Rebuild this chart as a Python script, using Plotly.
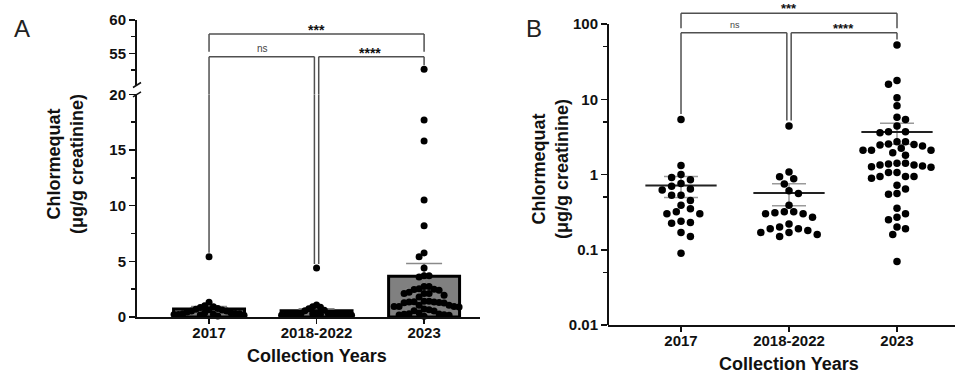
import numpy as np
import plotly.graph_objects as go

# ---------------- data ----------------
categories = ["2017", "2018-2022", "2023"]

chlormequat_2017 = [5.4, 1.32, 1.0, 0.91, 0.85, 0.76, 0.70, 0.64, 0.62, 0.53, 0.53,
                    0.45, 0.39, 0.35, 0.32, 0.30, 0.30, 0.24, 0.23, 0.225, 0.17,
                    0.15, 0.09]
chlormequat_2018_2022 = [4.4, 1.08, 0.93, 0.88, 0.75, 0.61, 0.56, 0.39, 0.32, 0.32,
                         0.31, 0.30, 0.30, 0.27, 0.22, 0.20, 0.19, 0.19, 0.18,
                         0.17, 0.17, 0.16, 0.15]
chlormequat_2023 = [52.6, 17.7, 15.8, 10.5, 8.2, 5.75, 5.4, 4.4, 3.7, 3.7, 3.6,
                    2.73, 2.73, 2.54, 2.5, 2.47, 2.4, 2.23, 2.1, 2.1, 2.1, 1.95,
                    1.8, 1.41, 1.41, 1.38, 1.34, 1.34, 1.3, 1.27, 1.25, 1.06,
                    1.06, 0.94, 0.94, 0.94, 0.89, 0.72, 0.64, 0.56, 0.545,
                    0.356, 0.30, 0.27, 0.25, 0.20, 0.19, 0.16, 0.07]

# comparisons: (group a, group b, label)
comparisons = [(0, 2, "***"), (0, 1, "ns"), (1, 2, "****")]

yA_lower_ticks = [0, 5, 10, 15, 20]
yA_upper_ticks = [55, 60]
yB_ticks = [0.01, 0.1, 1, 10, 100]
yB_ticklabels = ["0.01", "0.1", "1", "10", "100"]

groups = [chlormequat_2017, chlormequat_2018_2022, chlormequat_2023]
means = [float(np.mean(g)) for g in groups]
sems = [float(np.std(g, ddof=1) / np.sqrt(len(g))) for g in groups]

# ---------------- geometry ----------------
W, H = 955, 374
def pxx(p): return p / W
def pxy(p): return 1 - p / H

xA_dom = [pxx(137), pxx(480)]
xA_rng = [-0.67, 2.52]
yA_dom = [pxy(317), pxy(94.3)]
yA_rng = [0, 20]
yA2_dom = [pxy(85), pxy(20)]
yA2_rng = [50.25, 60]

dec_px = 75.25
xB_dom = [pxx(608), pxx(955)]
xB_rng = [-0.676, 2.537]
yB_rng = [-2, 2.2]
yB_dom = [pxy(325), pxy(24 - 0.2 * dec_px)]

def ppu(dom, rng, size):
    return (dom[1] - dom[0]) * size / (rng[1] - rng[0])

xA_ppu = ppu(xA_dom, xA_rng, W)
yA_ppu = ppu(yA_dom, yA_rng, H)
yA2_ppu = ppu(yA2_dom, yA2_rng, H)
xB_ppu = ppu(xB_dom, xB_rng, W)
yB_ppu = ppu(yB_dom, yB_rng, H)


def swarm(ypix, diam, step, max_half):
    """Greedy beeswarm in pixel space, then squeezed to fit max_half px."""
    ypix = np.asarray(ypix, float)
    offs = np.zeros(len(ypix))
    placed = []
    for i in np.argsort(ypix):
        bal = sum(o for o, _ in placed)
        k = 0
        done = False
        while not done:
            cs = [0.0] if k == 0 else ([-k * step, k * step] if bal >= 0 else [k * step, -k * step])
            for c in cs:
                if all((c - ox) ** 2 + (ypix[i] - oy) ** 2 >= diam ** 2 for ox, oy in placed):
                    offs[i] = c
                    placed.append((c, ypix[i]))
                    done = True
                    break
            k += 1
    m = np.max(np.abs(offs)) if len(offs) else 0
    if m > max_half:
        offs = offs * max_half / m
    return offs


fig = go.Figure()
BLACK = "#111111"
FONT = "Liberation Sans"

def b(t):
    return "<b>" + t + "</b>"

# ---------------- Panel A ----------------
fig.add_trace(go.Bar(
    x=[0, 1, 2], y=means, width=0.66, xaxis="x", yaxis="y",
    marker=dict(color="#808080", line=dict(color="#000000", width=3)),
    error_y=dict(type="data", array=sems, color="#8a8a8a", thickness=1.5, width=18),
    showlegend=False, hoverinfo="skip"))

for gi, g in enumerate(groups):
    g = np.asarray(g)
    low = g[g <= 20]
    high = g[g > 20]
    offs = swarm(-low * yA_ppu, 7.0, 3.8, 35) / xA_ppu
    fig.add_trace(go.Scatter(
        x=gi + offs, y=low, mode="markers", xaxis="x", yaxis="y",
        marker=dict(color="#000000", size=7), cliponaxis=False,
        showlegend=False, hoverinfo="skip"))
    if len(high):
        offs_h = swarm(-high * yA2_ppu, 7.0, 3.8, 35) / xA_ppu
        fig.add_trace(go.Scatter(
            x=gi + offs_h, y=high, mode="markers", xaxis="x", yaxis="y2",
            marker=dict(color="#000000", size=7), cliponaxis=False,
            showlegend=False, hoverinfo="skip"))

# ---------------- Panel B ----------------
mx, my = [], []
for gi, m in enumerate(means):
    mx += [gi - 0.33, gi + 0.33, None]
    my += [m, m, None]
fig.add_trace(go.Scatter(
    x=[0, 1, 2], y=means, mode="markers", xaxis="x2", yaxis="y3",
    marker=dict(size=1, opacity=0),
    error_y=dict(type="data", array=sems, color="#9a9a9a", thickness=1.5, width=17),
    showlegend=False, hoverinfo="skip"))
fig.add_trace(go.Scatter(
    x=mx, y=my, mode="lines", xaxis="x2", yaxis="y3",
    line=dict(color="#222222", width=2), showlegend=False, hoverinfo="skip"))
for gi, g in enumerate(groups):
    g = np.asarray(g)
    offs = swarm(-np.log10(g) * yB_ppu, 7.8, 4.7, 34) / xB_ppu
    fig.add_trace(go.Scatter(
        x=gi + offs, y=g, mode="markers", xaxis="x2", yaxis="y3",
        marker=dict(color="#000000", size=7.5), cliponaxis=False,
        showlegend=False, hoverinfo="skip"))

# ---------------- brackets ----------------
shapes = []
annotations = []
BR = dict(color="#505050", width=1.5)
maxes = [max(g) for g in groups]

def seg(xref, yref, x0, y0, x1, y1):
    shapes.append(dict(type="line", xref=xref, yref=yref, x0=x0, y0=y0,
                       x1=x1, y1=y1, line=BR, layer="above"))

def ann(**kw):
    d = dict(showarrow=False, xanchor="center", yanchor="middle")
    d.update(kw)
    annotations.append(d)

STAR_A = dict(family=FONT, size=14, color=BLACK)
STAR_B = dict(family=FONT, size=13, color=BLACK)

# Panel A bracket heights (upper axis units)
A_top, A_top_leg = 57.9, 55.25
A_mid = 54.5
gapA_low = 4 / yA_ppu
gapA_up = 4 / yA2_ppu

def legA(x, y_from, target):
    if target > 20:
        seg("x", "y2", x, y_from, x, target + gapA_up)
    else:
        seg("x", "y2", x, y_from, x, yA2_rng[0])
        seg("x", "paper", x, yA2_dom[0], x, yA_dom[1])
        seg("x", "y", x, yA_rng[1], x, target + gapA_low)

for a, c, lab in comparisons:
    if lab == "***":
        seg("x", "y2", a, A_top, c, A_top)
        seg("x", "y2", a, A_top, a, A_top_leg)
        seg("x", "y2", c, A_top, c, A_top_leg)
        ann(x=(a + c) / 2, y=A_top, xref="x", yref="y2", text=b("***"),
            yanchor="bottom", yshift=-6, font=STAR_A)
    else:
        xa = a + (0.02 if a == 1 else 0)
        xb = c - (0.02 if c == 1 else 0)
        seg("x", "y2", xa, A_mid, xb, A_mid)
        legA(xa, A_mid, maxes[a])
        legA(xb, A_mid, maxes[c])
        if lab == "ns":
            ann(x=(a + c) / 2, y=A_mid, xref="x", yref="y2", text="ns",
                yanchor="bottom", yshift=1, font=dict(family=FONT, size=10, color="#444"))
        else:
            ann(x=(a + c) / 2, y=A_mid, xref="x", yref="y2", text=b(lab),
                yanchor="bottom", yshift=-6, font=STAR_A)

# Panel B brackets (data units on log axis)
B_top, B_top_leg = 138.7, 87.7
B_mid = 76.6
gapB = 10 ** (5.5 / yB_ppu)
for a, c, lab in comparisons:
    if lab == "***":
        seg("x2", "y3", a, B_top, c, B_top)
        seg("x2", "y3", a, B_top, a, B_top_leg)
        seg("x2", "y3", c, B_top, c, B_top_leg)
        ann(x=(a + c) / 2, y=np.log10(B_top), xref="x2", yref="y3", text=b("***"),
            yanchor="bottom", yshift=-5, font=STAR_B)
    else:
        xa = a + (0.02 if a == 1 else 0)
        xb = c - (0.02 if c == 1 else 0)
        seg("x2", "y3", xa, B_mid, xb, B_mid)
        seg("x2", "y3", xa, B_mid, xa, maxes[a] * gapB)
        seg("x2", "y3", xb, B_mid, xb, maxes[c] * gapB)
        if lab == "ns":
            ann(x=(a + c) / 2, y=np.log10(B_mid), xref="x2", yref="y3", text="ns",
                yanchor="bottom", yshift=1, font=dict(family=FONT, size=9, color="#444"))
        else:
            ann(x=(a + c) / 2, y=np.log10(B_mid), xref="x2", yref="y3", text=b(lab),
                yanchor="bottom", yshift=-5, font=STAR_B)

# Panel B y-axis line (only 0.01 .. 100)
shapes.append(dict(type="line", xref="x2 domain", yref="y3", x0=0, x1=0,
                   y0=0.01, y1=100, line=dict(color=BLACK, width=2), layer="above"))

# axis break marks (panel A)
for ybrk in (85, 94.3):
    shapes.append(dict(type="line", xref="paper", yref="paper",
                       x0=pxx(133), x1=pxx(141), y0=pxy(ybrk + 2.5), y1=pxy(ybrk - 2.5),
                       line=dict(color=BLACK, width=1.5)))

# titles and panel letters
TF = dict(family=FONT, size=18, color=BLACK)
ytitle = "<b>Chlormequat</b><br><b>(μg/g creatinine)</b>"
ann(x=pxx(65), y=pxy(164), xref="paper", yref="paper", text=ytitle, textangle=-90, font=TF)
ann(x=pxx(550), y=pxy(169), xref="paper", yref="paper", text=ytitle, textangle=-90, font=TF)
ann(x=1, y=pxy(356), xref="x", yref="paper", text=b("Collection Years"), font=TF)
ann(x=1, y=pxy(364), xref="x2", yref="paper", text=b("Collection Years"), font=TF)
ann(x=pxx(21.5), y=pxy(28.5), xref="paper", yref="paper", text="A",
    font=dict(family=FONT, size=24, color="#222"))
ann(x=pxx(533.5), y=pxy(28.5), xref="paper", yref="paper", text="B",
    font=dict(family=FONT, size=24, color="#222"))

TICKF = dict(family=FONT, size=15, color=BLACK)
common_x = dict(tickmode="array", tickvals=[0, 1, 2], ticktext=[b(t) for t in categories],
                showline=True, linecolor=BLACK, linewidth=2, ticks="outside",
                ticklen=5, tickwidth=1.5, tickcolor=BLACK, showgrid=False,
                zeroline=False, tickfont=TICKF, automargin=False, ticklabelstandoff=-4)
ycommon = dict(ticks="outside", ticklen=6, tickwidth=1.5, tickcolor=BLACK,
               showgrid=False, zeroline=False, tickfont=TICKF, automargin=False,
               tickmode="array")

fig.update_layout(
    template="none",
    width=W, height=H, margin=dict(l=0, r=0, t=0, b=0, pad=0, autoexpand=False),
    paper_bgcolor="white", plot_bgcolor="white", showlegend=False,
    xaxis=dict(domain=xA_dom, range=xA_rng, anchor="y", **common_x),
    yaxis=dict(domain=yA_dom, range=yA_rng, anchor="x",
               tickvals=yA_lower_ticks, ticktext=[b(str(v)) for v in yA_lower_ticks],
               showline=True, linecolor=BLACK, linewidth=2,
               minor=dict(tickvals=[2.5, 7.5, 12.5, 17.5], ticklen=4, tickwidth=1.5,
                          tickcolor=BLACK, ticks="outside"), **ycommon),
    yaxis2=dict(domain=yA2_dom, range=yA2_rng, anchor="x",
                tickvals=yA_upper_ticks, ticktext=[b(str(v)) for v in yA_upper_ticks],
                showline=True, linecolor=BLACK, linewidth=2,
                minor=dict(tickvals=[52.5, 57.5], ticklen=4, tickwidth=1.5,
                           tickcolor=BLACK, ticks="outside"), **ycommon),
    xaxis2=dict(domain=xB_dom, range=xB_rng, anchor="y3", **common_x),
    yaxis3=dict(domain=yB_dom, range=yB_rng, anchor="x2", type="log",
                tickvals=yB_ticks, ticktext=[b(t) for t in yB_ticklabels],
                showline=False,
                minor=dict(tickvals=[0.05, 0.5, 5, 50], ticklen=4, tickwidth=1.5,
                           tickcolor=BLACK, ticks="outside"), **ycommon),
    shapes=shapes, annotations=annotations,
)

fig.write_html("out.html", config={"displayModeBar": False, "staticPlot": True},
               post_script="document.body.style.margin='0';document.body.style.overflow='hidden';")
